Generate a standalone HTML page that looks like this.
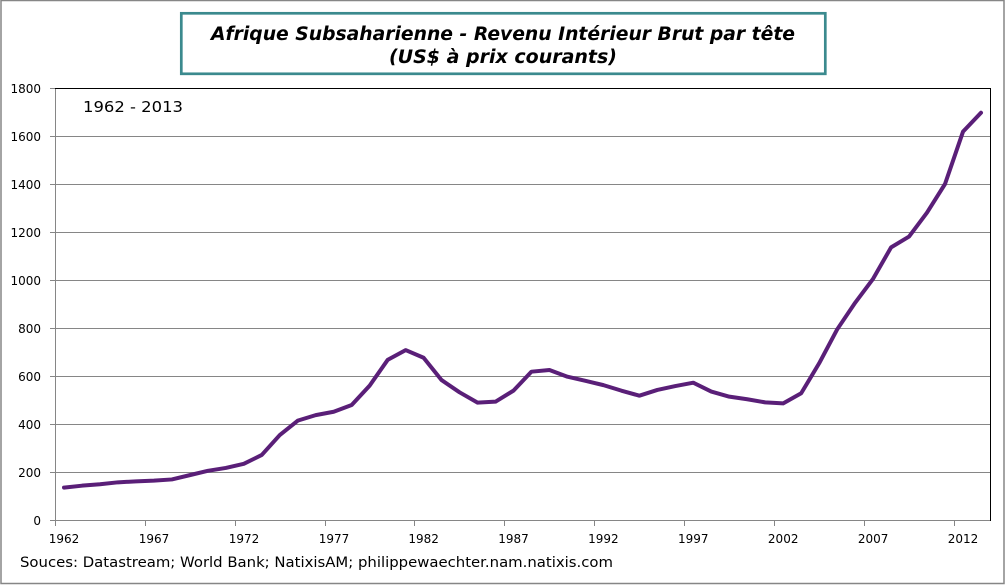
<!DOCTYPE html>
<html><head><meta charset="utf-8"><style>
html,body{margin:0;padding:0;background:#fff;}
svg{display:block;}
text{font-family:"DejaVu Sans","Liberation Sans",sans-serif;fill:#000;}
</style></head><body>
<svg width="1006" height="585" viewBox="0 0 1006 585" xmlns="http://www.w3.org/2000/svg">
<rect x="0" y="0" width="1006" height="585" fill="#fff"/>
<!-- outer frame -->
<rect x="1" y="0.5" width="1003" height="583" fill="none" stroke="#868686" stroke-width="1.5"/>
<!-- title box -->
<rect x="181.3" y="13.3" width="644" height="60.5" fill="#fff" stroke="#3b8a8e" stroke-width="2.7"/>
<text x="503" y="40" text-anchor="middle" font-size="18.5" font-weight="bold" font-style="italic" textLength="584" lengthAdjust="spacingAndGlyphs" style="font-family:'DejaVu Sans','Liberation Sans',sans-serif">Afrique Subsaharienne - Revenu Intérieur Brut par tête</text>
<text x="503" y="63" text-anchor="middle" font-size="18.5" font-weight="bold" font-style="italic" textLength="228" lengthAdjust="spacingAndGlyphs">(US$ à prix courants)</text>
<!-- gridlines -->
<g stroke="#868686" stroke-width="1">
<line x1="55" y1="136.5" x2="990" y2="136.5"/>
<line x1="55" y1="184.5" x2="990" y2="184.5"/>
<line x1="55" y1="232.5" x2="990" y2="232.5"/>
<line x1="55" y1="280.5" x2="990" y2="280.5"/>
<line x1="55" y1="328.5" x2="990" y2="328.5"/>
<line x1="55" y1="376.5" x2="990" y2="376.5"/>
<line x1="55" y1="424.5" x2="990" y2="424.5"/>
<line x1="55" y1="472.5" x2="990" y2="472.5"/>
<!-- axes -->
<line x1="55.5" y1="88" x2="55.5" y2="520.5"/>
<line x1="55" y1="520.5" x2="990" y2="520.5"/>
<!-- y ticks -->
<line x1="50" y1="88.5" x2="55" y2="88.5"/>
<line x1="50" y1="136.5" x2="55" y2="136.5"/>
<line x1="50" y1="184.5" x2="55" y2="184.5"/>
<line x1="50" y1="232.5" x2="55" y2="232.5"/>
<line x1="50" y1="280.5" x2="55" y2="280.5"/>
<line x1="50" y1="328.5" x2="55" y2="328.5"/>
<line x1="50" y1="376.5" x2="55" y2="376.5"/>
<line x1="50" y1="424.5" x2="55" y2="424.5"/>
<line x1="50" y1="472.5" x2="55" y2="472.5"/>
<line x1="50" y1="520.5" x2="55" y2="520.5"/>
<!-- x ticks -->
<line x1="55.5" y1="520" x2="55.5" y2="526"/>
<line x1="145.5" y1="520" x2="145.5" y2="526"/>
<line x1="235.5" y1="520" x2="235.5" y2="526"/>
<line x1="325.5" y1="520" x2="325.5" y2="526"/>
<line x1="414.5" y1="520" x2="414.5" y2="526"/>
<line x1="504.5" y1="520" x2="504.5" y2="526"/>
<line x1="594.5" y1="520" x2="594.5" y2="526"/>
<line x1="684.5" y1="520" x2="684.5" y2="526"/>
<line x1="774.5" y1="520" x2="774.5" y2="526"/>
<line x1="864.5" y1="520" x2="864.5" y2="526"/>
<line x1="954.5" y1="520" x2="954.5" y2="526"/>
</g>
<!-- top & right border black -->
<line x1="55" y1="88.5" x2="991" y2="88.5" stroke="#000" stroke-width="1"/>
<line x1="990.5" y1="88" x2="990.5" y2="521" stroke="#000" stroke-width="1"/>
<!-- y labels -->
<g font-size="12" text-anchor="end">
<text x="41" y="93">1800</text>
<text x="41" y="141">1600</text>
<text x="41" y="189">1400</text>
<text x="41" y="237">1200</text>
<text x="41" y="285">1000</text>
<text x="41" y="333">800</text>
<text x="41" y="381">600</text>
<text x="41" y="429">400</text>
<text x="41" y="477">200</text>
<text x="41" y="525">0</text>
</g>
<!-- x labels -->
<g font-size="12" text-anchor="middle">
<text x="64" y="543">1962</text>
<text x="154" y="543">1967</text>
<text x="244" y="543">1972</text>
<text x="334" y="543">1977</text>
<text x="423.6" y="543">1982</text>
<text x="513.5" y="543">1987</text>
<text x="603.4" y="543">1992</text>
<text x="693.3" y="543">1997</text>
<text x="783.2" y="543">2002</text>
<text x="873.1" y="543">2007</text>
<text x="963" y="543">2012</text>
</g>
<text x="83" y="112" font-size="15" textLength="100" lengthAdjust="spacingAndGlyphs">1962 - 2013</text>
<text x="20" y="567" font-size="14" textLength="593" lengthAdjust="spacingAndGlyphs">Souces: Datastream; World Bank; NatixisAM; philippewaechter.nam.natixis.com</text>
<!-- series -->
<polyline fill="none" stroke="#5a1f78" stroke-width="4" stroke-linejoin="round" stroke-linecap="round" points="64,487.6 81.98,485.68 99.96,484.24 117.94,482.32 135.92,481.36 153.9,480.64 171.88,479.44 189.86,475.12 207.84,470.8 225.82,467.92 243.8,463.84 261.78,454.96 279.76,435.04 297.74,420.64 315.72,415.12 333.7,411.76 351.68,405.04 369.66,385.6 387.64,359.92 405.62,350.08 423.6,357.76 441.58,380.08 459.56,392.32 477.54,402.64 495.52,401.68 513.5,390.64 531.48,371.68 549.46,370 567.44,376.72 585.42,380.8 603.4,385.12 621.38,390.64 639.36,395.68 657.34,389.92 675.32,386.08 693.3,382.72 711.28,391.6 729.26,396.64 747.24,399.28 765.22,402.4 783.2,403.36 801.18,393.28 819.16,363.28 837.14,329.44 855.12,302.8 873.1,278.8 891.08,247.36 909.06,236.56 927.04,212.56 945.02,184 963,131.68 980.98,112.72"/>
</svg>
</body></html>
